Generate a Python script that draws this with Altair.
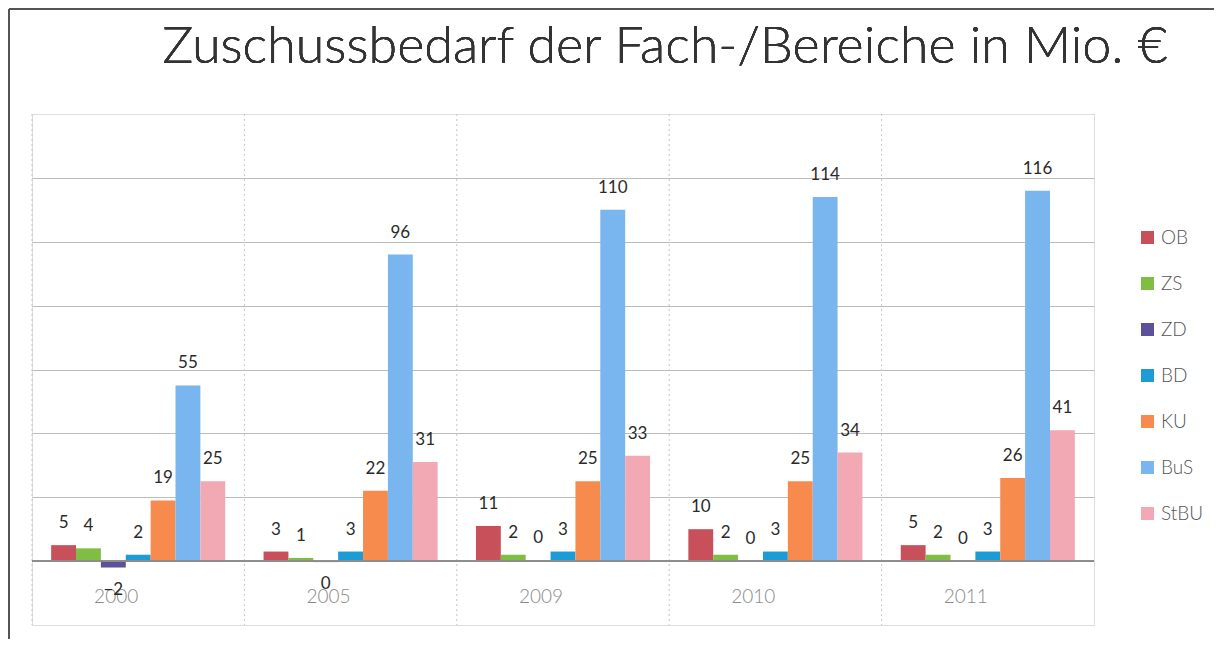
import altair as alt
import pandas as pd

title_text = "Zuschussbedarf der Fach-/Bereiche in Mio. €"
years = ["2000", "2005", "2009", "2010", "2011"]
series = ["OB", "ZS", "ZD", "BD", "KU", "BuS", "StBU"]
colors = ["#c8505a", "#80bd45", "#5d5199", "#1d9bd5", "#f68b4d", "#79b5ee", "#f2a9b3"]

ob = [5, 3, 11, 10, 5]
zs = [4, 1, 2, 2, 2]
zd = [-2, -0.3, 0.2, 0, 0]
bd = [2, 3, 3, 3, 3]
ku = [19, 22, 25, 25, 26]
bus = [55, 96, 110, 114, 116]
stbu = [25, 31, 33, 34, 41]

grid_values = [0, 20, 40, 60, 80, 100, 120]

rows = []
for name, vals in zip(series, [ob, zs, zd, bd, ku, bus, stbu]):
    for y, v in zip(years, vals):
        rows.append({"year": y, "series": name, "value": v})
df = pd.DataFrame(rows)
years_df = pd.DataFrame({"year": years})

W, H = 1062, 511

x_enc = alt.X("year:N", sort=years, scale=alt.Scale(paddingInner=0, paddingOuter=0),
              axis=alt.Axis(title=None, labelAngle=0, domain=False, ticks=False, grid=False,
                            labelPadding=-29, labelFontSize=19, labelColor="#8a8a8a",
                            labelFont="Lato", labelFontWeight=300))
y_scale = alt.Scale(domain=[-20, 140], nice=False, zero=False)
xoff = alt.XOffset("series:N", sort=series, scale=alt.Scale(paddingInner=0, paddingOuter=0.77))

base = alt.Chart(df)

bars = base.mark_bar().encode(
    x=x_enc,
    xOffset=xoff,
    y=alt.Y("value:Q", scale=y_scale,
            axis=alt.Axis(title=None, labels=False, ticks=False, domain=False, grid=True,
                          values=grid_values, gridColor="#bcbcbc", gridWidth=1)),
    color=alt.Color("series:N", sort=series, scale=alt.Scale(domain=series, range=colors),
                    legend=alt.Legend(orient="none", legendX=1106, legendY=114, title=None,
                                      symbolType="square", symbolSize=170, symbolStrokeWidth=0,
                                      labelFontSize=19, labelFont="Lato", labelFontWeight=300,
                                      labelColor="#555", rowPadding=26, labelOffset=4)),
)

vgrid = alt.Chart(years_df).mark_rule(color="#c4c4c4", strokeDash=[2, 3], strokeWidth=1).encode(
    x=alt.X("year:N", sort=years, bandPosition=0),
)

zero = alt.Chart(years_df).mark_rule(color="#8c8c8c", strokeWidth=1.2).encode(
    y=alt.datum(0),
)

pos_labels = base.transform_filter("datum.value >= 0").mark_text(
    dy=-22, fontSize=17, font="Lato", color="#2a2a2a", baseline="middle"
).encode(
    x=alt.X("year:N", sort=years),
    xOffset=xoff,
    y=alt.Y("value:Q", scale=y_scale),
    text=alt.Text("value:Q", format=".0f"),
)

neg_labels = base.transform_filter("datum.value < 0").mark_text(
    dy=22, fontSize=17, font="Lato", color="#2a2a2a", baseline="middle"
).encode(
    x=alt.X("year:N", sort=years),
    xOffset=xoff,
    y=alt.Y("value:Q", scale=y_scale),
    text=alt.Text("value:Q", format=".0f"),
)

title_mark = alt.Chart(years_df).mark_text(
    fontSize=52, font="Lato", fontWeight=300, color="#333", baseline="alphabetic", align="center"
).encode(
    x=alt.value(633), y=alt.value(-51), text=alt.value(title_text)
)

frame_top = alt.Chart(years_df).mark_rule(color="#555", strokeWidth=1.5).encode(
    x=alt.value(-23), x2=alt.value(1182), y=alt.value(-105)
)
frame_left = alt.Chart(years_df).mark_rule(color="#555", strokeWidth=1.5).encode(
    x=alt.value(-23), y=alt.value(-105), y2=alt.value(525)
)

chart = alt.layer(vgrid, bars, zero, pos_labels, neg_labels, title_mark, frame_top, frame_left).properties(
    width=W, height=H,
    autosize=alt.AutoSizeParams(type="none"),
    padding={"left": 24, "top": 106, "right": 121, "bottom": 14},
).configure_view(
    stroke="#b0b0b0", strokeDash=[2, 3], strokeWidth=1
).configure(background="white")

chart.save("out.html", embed_options={"renderer": "svg", "actions": False})
